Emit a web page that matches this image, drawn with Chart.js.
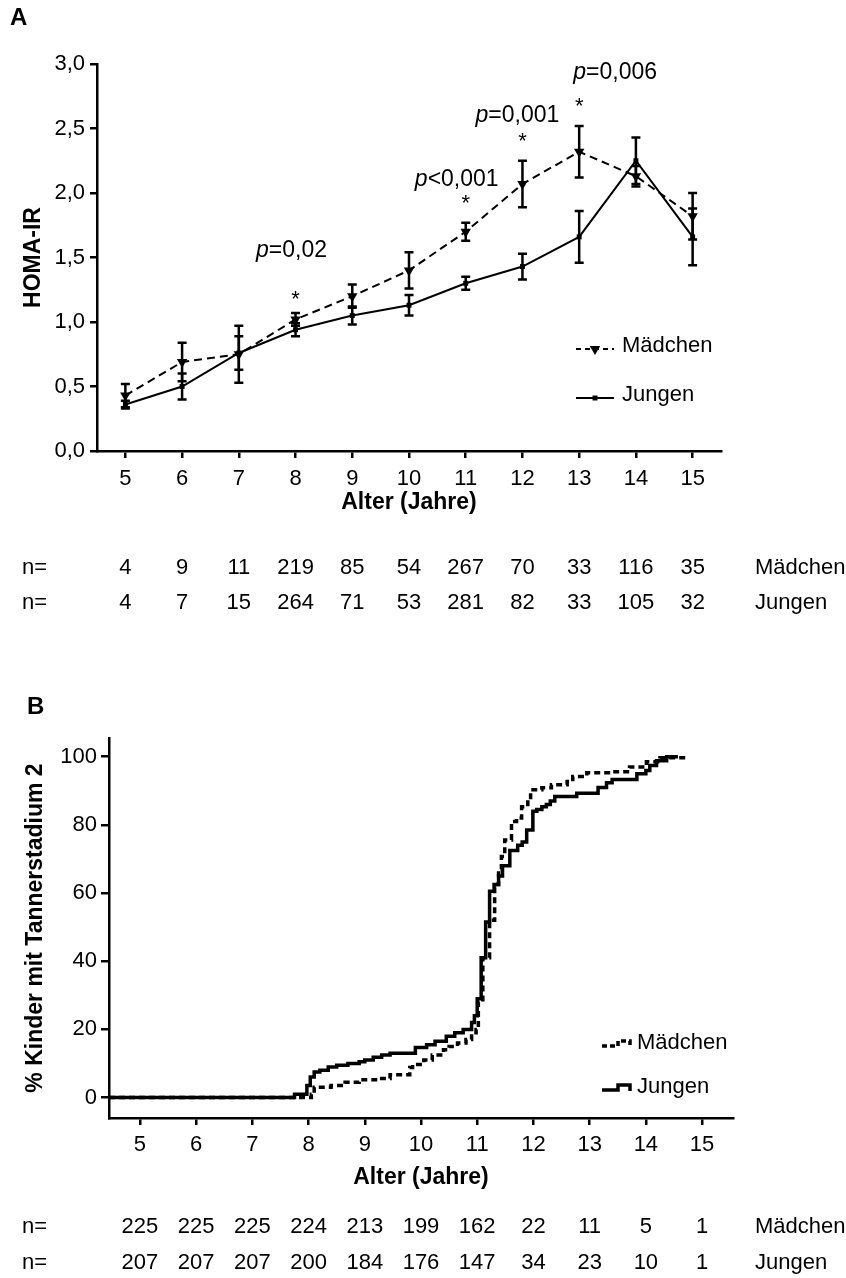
<!DOCTYPE html>
<html>
<head>
<meta charset="utf-8">
<script src="https://cdn.jsdelivr.net/npm/chart.js@4.4.1/dist/chart.umd.min.js"></script>
<style>
    html, body { margin: 0; padding: 0; background: #fff; }
    #wrap { position: relative; width: 846px; height: 1278px; overflow: hidden; }
    canvas { position: absolute; left: 0; }
    #homa { top: 0; }
    #tanner { top: 640px; }
</style>
</head>
<body>
<div id="wrap">
    <canvas id="homa" width="846" height="640"></canvas>
    <canvas id="tanner" width="846" height="638"></canvas>
</div>
<script>
'use strict';

// ---- Panel A: HOMA-IR by age (mean +/- SEM) ----
const AGES = [5, 6, 7, 8, 9, 10, 11, 12, 13, 14, 15];
const HOMA_GIRLS = [0.43, 0.69, 0.75, 1.02, 1.20, 1.40, 1.70, 2.07, 2.32, 2.13, 1.82];
const HOMA_GIRLS_SEM = [0.09, 0.15, 0.22, 0.05, 0.09, 0.14, 0.07, 0.18, 0.20, 0.08, 0.18];
const HOMA_BOYS = [0.36, 0.50, 0.76, 0.94, 1.05, 1.13, 1.30, 1.43, 1.66, 2.25, 1.66];
const HOMA_BOYS_SEM = [0.03, 0.10, 0.13, 0.05, 0.07, 0.08, 0.05, 0.10, 0.20, 0.18, 0.22];
const HOMA_TICKS = [0, 0.5, 1, 1.5, 2, 2.5, 3];
const N_GIRLS_A = [4, 9, 11, 219, 85, 54, 267, 70, 33, 116, 35];
const N_BOYS_A = [4, 7, 15, 264, 71, 53, 281, 82, 33, 105, 32];
const SIG_AGES = [8, 11, 12, 13];
const SIG_P = ['=0,02', '<0,001', '=0,001', '=0,006'];

// ---- Panel B: cumulative % with Tanner stage 2 ----
const TANNER_GIRLS_AGE = [4.45, 8.05, 8.1, 8.4, 8.65, 8.9, 9.25, 9.45, 9.8, 9.85, 10.05, 10.2, 10.4, 10.5,
    10.65, 10.8, 10.9, 10.98, 11.02, 11.1, 11.22, 11.31, 11.38, 11.43, 11.49, 11.61, 11.7, 11.79, 11.9,
    11.95, 12.15, 12.32, 12.6, 12.7, 12.95, 13.41, 13.71, 14.01, 14.25, 14.74];
const TANNER_GIRLS_PCT = [0, 1, 3, 3.5, 4.5, 5.2, 5.6, 6.7, 8.8, 9.7, 11, 12.5, 14, 15,
    16, 17, 19, 20, 28, 41, 52, 62.5, 67, 70.7, 75.6, 81, 82, 85.3, 87.4,
    90.3, 90.9, 91.8, 92.7, 94.2, 95.3, 95.6, 97, 98.5, 99.7, 100];
const TANNER_BOYS_AGE = [4.45, 7.75, 7.97, 8.03, 8.1, 8.2, 8.35, 8.5, 8.7, 8.9, 9.0, 9.15, 9.3, 9.45,
    9.9, 10.1, 10.25, 10.45, 10.6, 10.75, 10.9, 10.95, 11.0, 11.07, 11.15, 11.22, 11.3, 11.38, 11.45,
    11.58, 11.72, 11.8, 11.88, 11.99, 12.06, 12.15, 12.23, 12.3, 12.38, 12.77, 13.15, 13.3, 13.4,
    13.84, 14.0, 14.07, 14.19, 14.37, 14.57];
const TANNER_BOYS_PCT = [0, 1, 3.5, 6, 7.5, 8, 9, 9.5, 10, 10.5, 11, 11.8, 12.5, 13,
    14.7, 15.5, 16.5, 18, 19, 20, 22, 24, 29, 41, 51.5, 60.5, 62.5, 65, 68,
    72.5, 74, 75, 78.5, 84, 84.5, 85.3, 86, 87, 88.3, 89.3, 91, 92.4, 93.3,
    95, 96, 97.4, 98.8, 100, 100];
const TANNER_TICKS = [0, 20, 40, 60, 80, 100];
const N_GIRLS_B = [225, 225, 225, 224, 213, 199, 162, 22, 11, 5, 1];
const N_BOYS_B = [207, 207, 207, 200, 184, 176, 147, 34, 23, 10, 1];

const FONT = '"Liberation Sans", Arial, Helvetica, sans-serif';
Chart.defaults.font.family = FONT;
Chart.defaults.color = '#000';

const toPoints = (xs, ys) => xs.map((x, i) => ({ x, y: ys[i] }));

// vertical SEM bars with caps
const errorBars = {
    id: 'errorBars',
    afterDatasetsDraw(chart, args, o) {
        const { ctx, scales: { x, y } } = chart;
        ctx.save();
        ctx.strokeStyle = '#000';
        ctx.lineWidth = o.width;
        ctx.setLineDash([]);
        chart.data.datasets.forEach(ds => {
            if (!ds.errors) return;
            ds.data.forEach((p, i) => {
                const px = x.getPixelForValue(p.x);
                const hi = y.getPixelForValue(p.y + ds.errors[i]);
                const lo = y.getPixelForValue(p.y - ds.errors[i]);
                ctx.beginPath();
                ctx.moveTo(px, hi); ctx.lineTo(px, lo);
                ctx.moveTo(px - o.cap, hi); ctx.lineTo(px + o.cap, hi);
                ctx.moveTo(px - o.cap, lo); ctx.lineTo(px + o.cap, lo);
                ctx.stroke();
            });
        });
        ctx.restore();
    }
};

// asterisks and p-values above the girls' bars
const sigMarks = {
    id: 'sigMarks',
    afterDatasetsDraw(chart, args, o) {
        if (!o.show) return;
        const { ctx, scales: { x, y } } = chart;
        const girls = chart.data.datasets[0];
        ctx.save();
        ctx.fillStyle = '#000';
        SIG_AGES.forEach((age, k) => {
            const i = AGES.indexOf(age);
            const cx = x.getPixelForValue(age);
            const starY = y.getPixelForValue(girls.data[i].y + girls.errors[i]) - o.starGap;
            ctx.font = `22px ${FONT}`;
            const m = ctx.measureText('*');
            ctx.textAlign = 'center';
            ctx.textBaseline = 'alphabetic';
            ctx.fillText('*', cx, starY + (m.actualBoundingBoxAscent - m.actualBoundingBoxDescent) / 2);

            const [dx, dy] = o.textOffsets[k];
            ctx.font = `italic 23px ${FONT}`;
            const wp = ctx.measureText('p').width;
            ctx.font = `23px ${FONT}`;
            const wr = ctx.measureText(SIG_P[k]).width;
            const x0 = cx + dx - (wp + wr) / 2;
            const ty = starY + dy;
            ctx.textAlign = 'left';
            ctx.textBaseline = 'middle';
            ctx.font = `italic 23px ${FONT}`;
            ctx.fillText('p', x0, ty);
            ctx.font = `23px ${FONT}`;
            ctx.fillText(SIG_P[k], x0 + wp, ty);
        });
        ctx.restore();
    }
};

// hand-placed legend inside the plot
const lineLegend = {
    id: 'lineLegend',
    afterDraw(chart, args, o) {
        const ctx = chart.ctx;
        chart.data.datasets.forEach((ds, i) => {
            const y = o.y[i];
            ctx.save();
            ctx.strokeStyle = '#000';
            ctx.fillStyle = '#000';
            ctx.lineWidth = o.lineWidth;
            ctx.setLineDash(o.dash[i]);
            ctx.beginPath();
            if (o.stepped) {
                const xm = (o.x0 + o.x1) / 2 + 2;
                ctx.moveTo(o.x0, y + 3);
                ctx.lineTo(xm, y + 3);
                ctx.lineTo(xm, y - 2);
                ctx.lineTo(o.x1, y - 2);
                ctx.lineTo(o.x1, y + 4);
            } else {
                ctx.moveTo(o.x0, y + o.lineDy);
                ctx.lineTo(o.x1, y + o.lineDy);
            }
            ctx.stroke();
            if (ds.pointRadius > 0) {
                ctx.setLineDash([]);
                Chart.helpers.drawPoint(ctx, {
                    pointStyle: ds.pointStyle, rotation: ds.rotation || 0,
                    radius: ds.pointRadius, borderWidth: 0
                }, (o.x0 + o.x1) / 2, y + o.lineDy);
            }
            ctx.font = `22px ${FONT}`;
            ctx.textAlign = 'left';
            ctx.textBaseline = 'middle';
            ctx.fillText(ds.label, o.textX, y);
            ctx.restore();
        });
    }
};

// panel letter and the n= rows below the axis
const panelText = {
    id: 'panelText',
    afterDraw(chart, args, o) {
        const { ctx, scales: { x } } = chart;
        ctx.save();
        ctx.fillStyle = '#000';
        ctx.textBaseline = 'middle';
        ctx.font = `bold 24px ${FONT}`;
        ctx.textAlign = 'left';
        ctx.fillText(o.letter, o.letterX, o.letterY);
        ctx.font = `22px ${FONT}`;
        o.rows.forEach(row => {
            ctx.textAlign = 'left';
            ctx.fillText('n=', o.prefixX, row.y);
            ctx.textAlign = 'center';
            row.values.forEach((v, i) => ctx.fillText(String(v), x.getPixelForValue(AGES[i]), row.y));
            ctx.textAlign = 'left';
            ctx.fillText(row.label, o.labelX, row.y);
        });
        ctx.restore();
    }
};

const axisStyle = (tickLength) => ({
    grid: { drawOnChartArea: false, drawTicks: true, tickLength, color: '#000', lineWidth: 2.5 },
    border: { display: true, color: '#000', width: 2.5 },
});

new Chart(document.getElementById('homa'), {
    type: 'line',
    data: {
        datasets: [
            {
                label: 'Mädchen',
                data: toPoints(AGES, HOMA_GIRLS),
                errors: HOMA_GIRLS_SEM,
                borderColor: '#000',
                borderWidth: 2,
                borderDash: [8, 5],
                pointStyle: 'triangle',
                rotation: 180,
                pointRadius: 6,
                pointBackgroundColor: '#000',
                pointBorderColor: '#000',
                pointBorderWidth: 0,
            },
            {
                label: 'Jungen',
                data: toPoints(AGES, HOMA_BOYS),
                errors: HOMA_BOYS_SEM,
                borderColor: '#000',
                borderWidth: 2,
                pointStyle: 'rect',
                pointRadius: 3.5,
                pointBackgroundColor: '#000',
                pointBorderColor: '#000',
                pointBorderWidth: 0,
            }
        ]
    },
    options: {
        responsive: false,
        animation: false,
        devicePixelRatio: 1,
        layout: { padding: { left: 0, top: 64, right: 125, bottom: 124 } },
        plugins: {
            legend: { display: false },
            tooltip: { enabled: false },
            errorBars: { width: 2.5, cap: 4.5 },
            sigMarks: { show: true, starGap: 18, textOffsets: [[-4, -44], [-9, -25], [-5, -27], [36, -35]] },
            lineLegend: { x0: 576, x1: 614, textX: 622, y: [346, 395], lineDy: 3, lineWidth: 2, dash: [[5, 4], []] },
            panelText: {
                letter: 'A', letterX: 10, letterY: 18, prefixX: 22, labelX: 755,
                rows: [{ y: 568, label: 'Mädchen', values: N_GIRLS_A }, { y: 603, label: 'Jungen', values: N_BOYS_A }]
            }
        },
        scales: {
            x: {
                type: 'linear', min: 4.5, max: 15.5,
                afterBuildTicks: s => { s.ticks = AGES.map(v => ({ value: v })); },
                afterFit: s => { s.height = 65; },
                ...axisStyle(7),
                ticks: { font: { size: 22 }, padding: 8, maxRotation: 0, autoSkip: false },
                title: { display: true, text: 'Alter (Jahre)', font: { size: 23, weight: 'bold' }, padding: 0 }
            },
            y: {
                type: 'linear', min: 0, max: 3,
                afterBuildTicks: s => { s.ticks = HOMA_TICKS.map(v => ({ value: v })); },
                afterFit: s => { s.width = 97; },
                ...axisStyle(7),
                ticks: { font: { size: 22 }, padding: 5, callback: v => v.toFixed(1).replace('.', ',') },
                title: { display: true, text: 'HOMA-IR', font: { size: 23, weight: 'bold' }, padding: { top: 20, bottom: 0 } }
            }
        }
    },
    plugins: [errorBars, sigMarks, lineLegend, panelText]
});

new Chart(document.getElementById('tanner'), {
    type: 'line',
    data: {
        datasets: [
            {
                label: 'Mädchen',
                data: toPoints(TANNER_GIRLS_AGE, TANNER_GIRLS_PCT),
                stepped: 'before',
                borderColor: '#000',
                borderWidth: 3.5,
                borderDash: [6, 4],
                pointRadius: 0,
            },
            {
                label: 'Jungen',
                data: toPoints(TANNER_BOYS_AGE, TANNER_BOYS_PCT),
                stepped: 'before',
                borderColor: '#000',
                borderWidth: 3.5,
                pointRadius: 0,
            }
        ]
    },
    options: {
        responsive: false,
        animation: false,
        devicePixelRatio: 1,
        layout: { padding: { left: 0, top: 98, right: 113, bottom: 87 } },
        plugins: {
            legend: { display: false },
            tooltip: { enabled: false },
            lineLegend: { x0: 602, x1: 630, textX: 637, y: [403, 447], stepped: true, lineWidth: 3.5, dash: [[5, 3], []] },
            panelText: {
                letter: 'B', letterX: 27, letterY: 67, prefixX: 22, labelX: 755,
                rows: [{ y: 587, label: 'Mädchen', values: N_GIRLS_B }, { y: 623, label: 'Jungen', values: N_BOYS_B }]
            }
        },
        scales: {
            x: {
                type: 'linear', min: 4.45, max: 15.55,
                afterBuildTicks: s => { s.ticks = AGES.map(v => ({ value: v })); },
                afterFit: s => { s.height = 73; },
                ...axisStyle(7),
                ticks: { font: { size: 22 }, padding: 7, maxRotation: 0, autoSkip: false },
                title: { display: true, text: 'Alter (Jahre)', font: { size: 23, weight: 'bold' }, padding: 0 }
            },
            y: {
                type: 'linear', min: -6, max: 105.5,
                afterBuildTicks: s => { s.ticks = TANNER_TICKS.map(v => ({ value: v })); },
                afterFit: s => { s.width = 109; },
                ...axisStyle(8),
                ticks: { font: { size: 22 }, padding: 4 },
                title: { display: true, text: '% Kinder mit Tannerstadium 2', font: { size: 23, weight: 'bold' }, padding: { top: 22, bottom: 0 } }
            }
        }
    },
    plugins: [lineLegend, panelText]
});
</script>
</body>
</html>
